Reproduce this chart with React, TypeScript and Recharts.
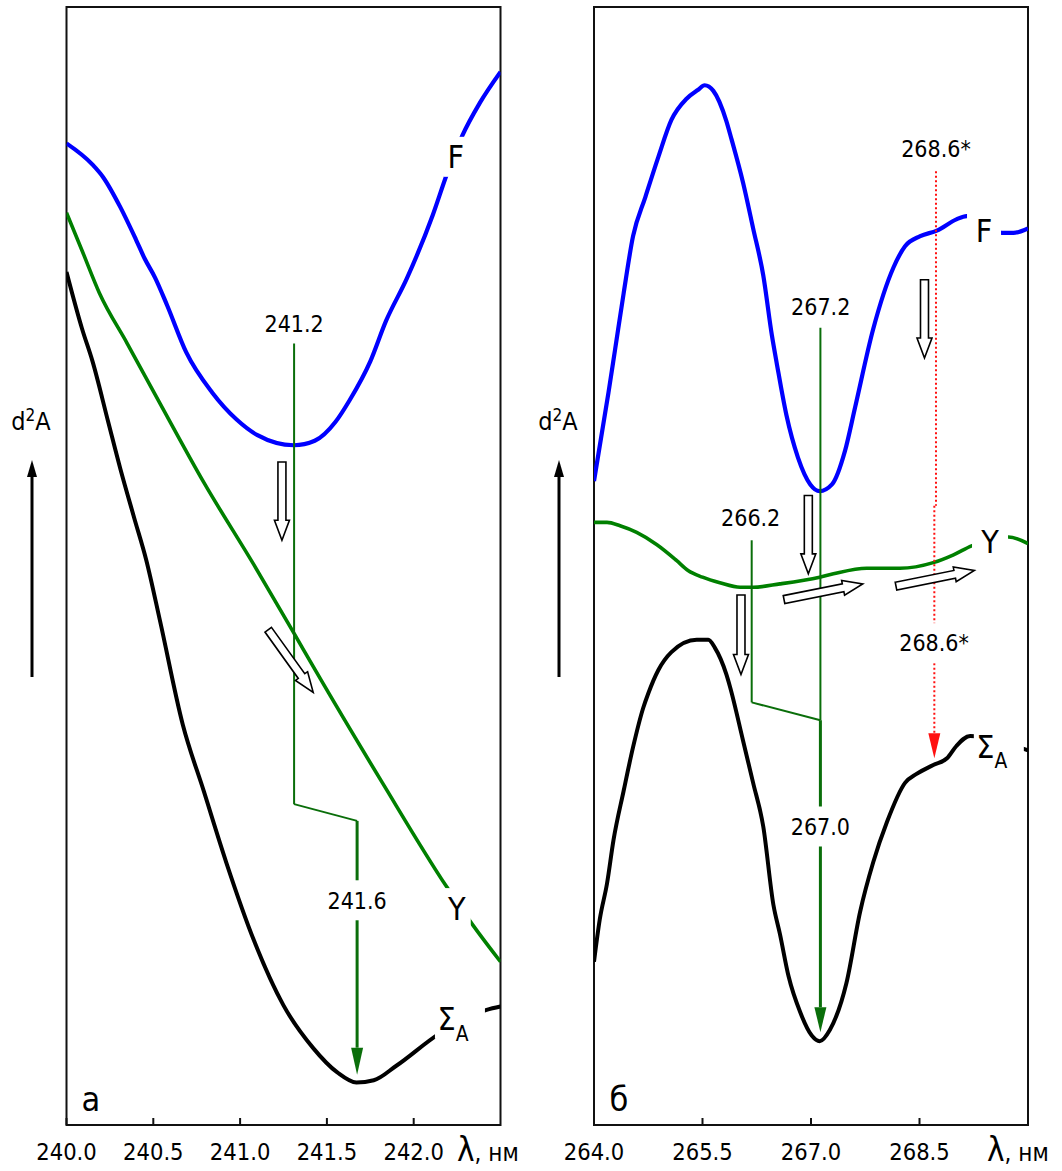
import React from "react";
import {
  LineChart,
  Line,
  XAxis,
  YAxis,
  ReferenceArea,
  ReferenceLine,
  ReferenceDot,
} from "recharts";

const FONT = "'DejaVu Sans Condensed', 'DejaVu Sans', sans-serif";
const BLUE = "#0000ff";
const GREEN = "#008000";
const MARK = "#0a6e0a";
const RED = "#ff1010";
const INK = "#111";

// ---- panel а : 240.0 – 242.5 nm ----
const ticksA = [240.0, 240.5, 241.0, 241.5, 242.0];

const fA_x = [240.0, 240.15, 240.21, 240.31, 240.4, 240.45, 240.51, 240.58, 240.69, 240.84, 240.98, 241.1, 241.31, 241.43, 241.55, 241.63, 241.75, 241.84, 241.96, 242.11, 242.19, 242.28, 242.38, 242.5];
const fA_y = [87.8, 85.9, 84.8, 82.1, 79.2, 77.5, 75.8, 73.3, 69.1, 65.5, 63.1, 61.7, 60.8, 61.2, 62.9, 64.8, 68.3, 71.9, 75.7, 81.4, 85.0, 88.5, 91.4, 94.2];

const yA_x = [240.0, 240.09, 240.19, 240.35, 240.54, 240.79, 241.08, 241.31, 241.44, 241.82, 242.19, 242.34, 242.5];
const yA_y = [81.6, 78.2, 74.4, 69.9, 64.5, 57.5, 50.1, 44.0, 40.5, 30.6, 21.3, 17.9, 14.6];

const sA_x = [240.0, 240.09, 240.15, 240.24, 240.31, 240.39, 240.46, 240.54, 240.67, 240.79, 240.92, 241.08, 241.25, 241.42, 241.56, 241.67, 241.77, 241.9, 242.15, 242.42, 242.5];
const sA_y = [76.3, 71.2, 68.3, 62.9, 58.7, 54.3, 50.5, 45.0, 35.8, 29.9, 23.5, 16.5, 10.7, 6.9, 4.7, 3.8, 4.0, 5.3, 8.2, 10.3, 10.6];

// marker wavelengths (where drawn) and levels, panel а
const mA_x = [241.311, 241.674];
const mA_y = [69.9, 28.7, 27.2, 4.5];

// ---- panel б : 264.0 – 270.0 nm ----
const ticksB = [264.0, 265.5, 267.0, 268.5];

const fB_x = [264.0, 264.2, 264.29, 264.41, 264.54, 264.71, 264.89, 265.07, 265.28, 265.44, 265.53, 265.65, 265.83, 265.9, 266.06, 266.2, 266.34, 266.46, 266.53, 266.66, 266.82, 266.99, 267.12, 267.29, 267.47, 267.61, 267.86, 268.14, 268.3, 268.51, 268.74, 269.01, 269.15, 269.64, 269.8, 270.0];
const fB_y = [57.6, 65.5, 69.3, 74.4, 79.5, 83.0, 86.6, 89.9, 91.8, 92.6, 93.0, 92.5, 89.8, 88.2, 84.3, 80.2, 76.0, 70.6, 68.0, 63.5, 59.7, 57.3, 56.7, 57.3, 60.3, 64.2, 71.2, 76.7, 78.6, 79.5, 80.0, 81.0, 81.3, 79.8, 79.8, 80.2];

const yB_x = [264.0, 264.18, 264.36, 264.59, 264.87, 265.14, 265.3, 265.5, 265.74, 266.02, 266.2, 266.57, 267.12, 267.31, 267.77, 268.23, 268.69, 268.97, 269.22, 269.73, 270.0];
const yB_y = [53.9, 53.9, 53.6, 53.0, 51.9, 50.5, 49.6, 49.0, 48.5, 48.1, 48.1, 48.4, 49.0, 49.3, 49.8, 49.8, 50.3, 51.0, 51.8, 52.6, 52.0];

const sB_x = [264.0, 264.08, 264.18, 264.27, 264.41, 264.54, 264.68, 264.75, 264.89, 265.07, 265.42, 265.58, 265.67, 265.83, 265.88, 266.06, 266.2, 266.34, 266.48, 266.57, 266.69, 266.85, 267.01, 267.12, 267.26, 267.49, 267.68, 267.86, 268.05, 268.3, 268.46, 268.69, 268.88, 269.01, 269.2, 269.87, 270.0];
const sB_y = [14.6, 18.4, 21.6, 25.5, 29.9, 33.8, 37.3, 38.6, 40.7, 42.3, 43.4, 43.4, 42.7, 40.3, 39.2, 34.4, 30.6, 26.7, 19.7, 17.1, 13.3, 10.1, 8.0, 7.5, 8.5, 12.7, 19.1, 23.5, 27.1, 30.6, 31.4, 32.2, 32.8, 33.9, 34.8, 33.8, 33.5];

// marker wavelengths and levels, panel б
const mB_x = [266.18, 267.13, 268.728, 268.705];
const mB_y = [52.3, 37.8, 36.2, 71.3, 8.3, 85.3, 55.4, 32.8];

const pts = (xs: number[], ys: number[]) => xs.map((x, i) => ({ x, y: ys[i] }));

function curve(key: string, data: { x: number; y: number }[], color: string, w: number) {
  return (
    <Line
      key={key}
      data={data}
      dataKey="y"
      type="monotone"
      stroke={color}
      strokeWidth={w}
      dot={false}
      activeDot={false}
      isAnimationActive={false}
    />
  );
}

// plain segment / segment ending in a filled head
const lineShape = (color: string, w: number, dash?: string, head?: number) => (p: any) => {
  const { x1, y1, x2, y2 } = p;
  if (!head) {
    return <line x1={x1} y1={y1} x2={x2} y2={y2} stroke={color} strokeWidth={w} strokeDasharray={dash} />;
  }
  const L = Math.hypot(x2 - x1, y2 - y1) || 1;
  const ux = (x2 - x1) / L;
  const uy = (y2 - y1) / L;
  const bx = x2 - ux * head;
  const by = y2 - uy * head;
  const hw = 6;
  return (
    <g>
      <line x1={x1} y1={y1} x2={bx} y2={by} stroke={color} strokeWidth={w} strokeDasharray={dash} />
      <polygon
        points={`${x2},${y2} ${bx - uy * hw},${by + ux * hw} ${bx + uy * hw},${by - ux * hw}`}
        fill={color}
      />
    </g>
  );
};

// hollow block arrow
const blockArrow = (p: any) => {
  const { x1, y1, x2, y2 } = p;
  const L = Math.hypot(x2 - x1, y2 - y1);
  const ang = (Math.atan2(y2 - y1, x2 - x1) * 180) / Math.PI;
  const hl = 20, sw = 4, hw = 7.5;
  const poly = [[0, -sw], [L - hl, -sw], [L - hl, -hw], [L, 0], [L - hl, hw], [L - hl, sw], [0, sw]];
  return (
    <polygon
      transform={`translate(${x1},${y1}) rotate(${ang})`}
      points={poly.map((q) => q.join(",")).join(" ")}
      fill="#fff"
      stroke="#000"
      strokeWidth={1.6}
    />
  );
};

function seg(key: string, a: number[], b: number[], shape: any) {
  return (
    <ReferenceLine
      key={key}
      segment={[{ x: a[0], y: a[1] }, { x: b[0], y: b[1] }]}
      shape={shape}
      ifOverflow="visible"
    />
  );
}

type TagOpts = { text: string; sub?: string; size: number; bw?: number; bh?: number; bx?: number };

function Tag({ cx, cy, text, sub, size, bw, bh, bx }: TagOpts & { cx: number; cy: number }) {
  return (
    <g>
      {bw ? <rect x={cx - bw / 2 + (bx || 0)} y={cy - (bh || 30) / 2} width={bw} height={bh || 30} fill="#fff" /> : null}
      <text x={cx} y={cy + size * 0.36} textAnchor="middle" fontSize={size} fontFamily={FONT} fill="#000">
        {text}
        {sub ? (
          <tspan fontSize={size * 0.65} dy={size * 0.32}>
            {sub}
          </tspan>
        ) : null}
      </text>
    </g>
  );
}

function tag(key: string, x: number, y: number, o: TagOpts) {
  return (
    <ReferenceDot
      key={key}
      x={x}
      y={y}
      r={0}
      ifOverflow="visible"
      shape={(p: any) => <Tag cx={p.cx} cy={p.cy} {...o} />}
    />
  );
}

const renderTick = (p: any) => {
  const { x, y, payload } = p;
  return (
    <g>
      <line x1={x} y1={y} x2={x} y2={y - 7} stroke={INK} strokeWidth={2} />
      <text x={x} y={y + 34.5} textAnchor="middle" fontSize={23.5} fontFamily={FONT} fill="#000">
        {Number(payload.value).toFixed(1)}
      </text>
    </g>
  );
};

const H = 1171;
const NUM = 23;

export default function App() {
  const thin = lineShape(MARK, 2);
  return (
    <div style={{ position: "absolute", left: 0, top: 0, width: 1062, height: H, background: "#fff" }}>
      <div style={{ position: "absolute", left: 0, top: 0 }}>
        <LineChart width={530} height={H} margin={{ top: 7, right: 29.5, bottom: 6, left: 66.5 }}>
          <XAxis
            type="number"
            dataKey="x"
            domain={[240, 242.5]}
            ticks={ticksA}
            interval={0}
            allowDataOverflow
            axisLine={false}
            tickLine={false}
            tickSize={0}
            tickMargin={0}
            height={40}
            tick={renderTick}
          />
          <YAxis type="number" domain={[0, 100]} hide allowDataOverflow />
          <ReferenceArea x1={240} x2={242.5} y1={0} y2={100} fill="none" stroke={INK} strokeWidth={2} ifOverflow="visible" />
          {curve("fA", pts(fA_x, fA_y), BLUE, 4.2)}
          {curve("yA", pts(yA_x, yA_y), GREEN, 3.6)}
          {curve("sA", pts(sA_x, sA_y), "#000", 4)}
          {seg("a1", [mA_x[0], mA_y[0]], [mA_x[0], mA_y[1]], thin)}
          {seg("a2", [mA_x[0], mA_y[1]], [mA_x[1], mA_y[2]], thin)}
          {seg("a3", [mA_x[1], mA_y[2]], [mA_x[1], mA_y[3]], lineShape(MARK, 3, undefined, 27))}
          {seg("ar1", [241.241, 59.3], [241.241, 52.3], blockArrow)}
          {seg("ar2", [241.162, 44.3], [241.421, 38.7], blockArrow)}
          {tag("t1", mA_x[0], 71.7, { text: "241.2", size: NUM })}
          {tag("t2", mA_x[1], 20.1, { text: "241.6", size: NUM, bw: 64, bh: 40 })}
          {tag("tF", 242.242, 86.6, { text: "F", size: 32, bw: 24, bh: 40 })}
          {tag("tY", 242.248, 19.4, { text: "Y", size: 32, bw: 28, bh: 40 })}
          {tag("tS", 242.226, 9.5, { text: "Σ", sub: "A", size: 32, bw: 50, bh: 40, bx: 7 })}
          {tag("ta", 240.141, 2.37, { text: "а", size: 34 })}
        </LineChart>
      </div>

      <div style={{ position: "absolute", left: 530, top: 0 }}>
        <LineChart width={532} height={H} margin={{ top: 7, right: 34, bottom: 6, left: 64 }}>
          <XAxis
            type="number"
            dataKey="x"
            domain={[264, 270]}
            ticks={ticksB}
            interval={0}
            allowDataOverflow
            axisLine={false}
            tickLine={false}
            tickSize={0}
            tickMargin={0}
            height={40}
            tick={renderTick}
          />
          <YAxis type="number" domain={[0, 100]} hide allowDataOverflow />
          <ReferenceArea x1={264} x2={270} y1={0} y2={100} fill="none" stroke={INK} strokeWidth={2} ifOverflow="visible" />
          {curve("fB", pts(fB_x, fB_y), BLUE, 4.2)}
          {curve("yB", pts(yB_x, yB_y), GREEN, 3.6)}
          {curve("sB", pts(sB_x, sB_y), "#000", 4)}
          {seg("b1", [mB_x[0], mB_y[0]], [mB_x[0], mB_y[1]], thin)}
          {seg("b2", [mB_x[0], mB_y[1]], [mB_x[1], mB_y[2]], thin)}
          {seg("b3", [mB_x[1], mB_y[3]], [mB_x[1], mB_y[2]], thin)}
          {seg("b4", [mB_x[1], mB_y[2]], [mB_x[1], mB_y[4]], lineShape(MARK, 3, undefined, 25))}
          {seg("r1", [mB_x[2], mB_y[5]], [mB_x[2], mB_y[6]], lineShape(RED, 2, "2 2.5"))}
          {seg("r2", [mB_x[3], mB_y[6]], [mB_x[3], mB_y[7]], lineShape(RED, 2, "2 2.5", 25))}
          {seg("br1", [268.569, 75.6], [268.569, 68.6], blockArrow)}
          {seg("br2", [266.963, 56.3], [266.963, 49.3], blockArrow)}
          {seg("br3", [266.032, 47.4], [266.032, 40.3], blockArrow)}
          {seg("br4", [266.627, 47.0], [267.715, 48.4], blockArrow)}
          {seg("br5", [268.175, 48.2], [269.258, 49.6], blockArrow)}
          {tag("u1", 267.134, 73.2, { text: "267.2", size: NUM })}
          {tag("u2", 266.166, 54.3, { text: "266.2", size: NUM })}
          {tag("u3", 268.728, 87.3, { text: "268.6*", size: NUM })}
          {tag("u4", 268.701, 43.1, { text: "268.6*", size: NUM, bw: 78, bh: 40 })}
          {tag("u5", 267.129, 26.7, { text: "267.0", size: NUM, bw: 66, bh: 40 })}
          {tag("uF", 269.392, 80.0, { text: "F", size: 32, bw: 34, bh: 36 })}
          {tag("uY", 269.475, 52.2, { text: "Y", size: 32, bw: 36, bh: 36 })}
          {tag("uS", 269.5, 33.9, { text: "Σ", sub: "A", size: 32, bw: 50, bh: 36, bx: 7 })}
          {tag("ub", 264.346, 2.37, { text: "б", size: 34 })}
        </LineChart>
      </div>

      <svg width={1062} height={H} style={{ position: "absolute", left: 0, top: 0, pointerEvents: "none" }}>
        {[31, 558].map((x) => (
          <g key={x}>
            <text x={x} y={430} textAnchor="middle" fontSize={25} fontFamily={FONT} fill="#000">
              d
              <tspan fontSize={17} dy={-9}>
                2
              </tspan>
              <tspan dy={9}>A</tspan>
            </text>
            <line x1={x + 1} y1={677} x2={x + 1} y2={474} stroke="#000" strokeWidth={3} />
            <polygon points={`${x + 1},460 ${x - 4},477 ${x + 6},477`} fill="#000" />
          </g>
        ))}
        {[457, 987].map((x) => (
          <text key={x} x={x} y={1161} fontFamily={FONT} fill="#000">
            <tspan fontSize={33}>λ</tspan>
            <tspan fontSize={24}>, нм</tspan>
          </text>
        ))}
      </svg>
    </div>
  );
}
